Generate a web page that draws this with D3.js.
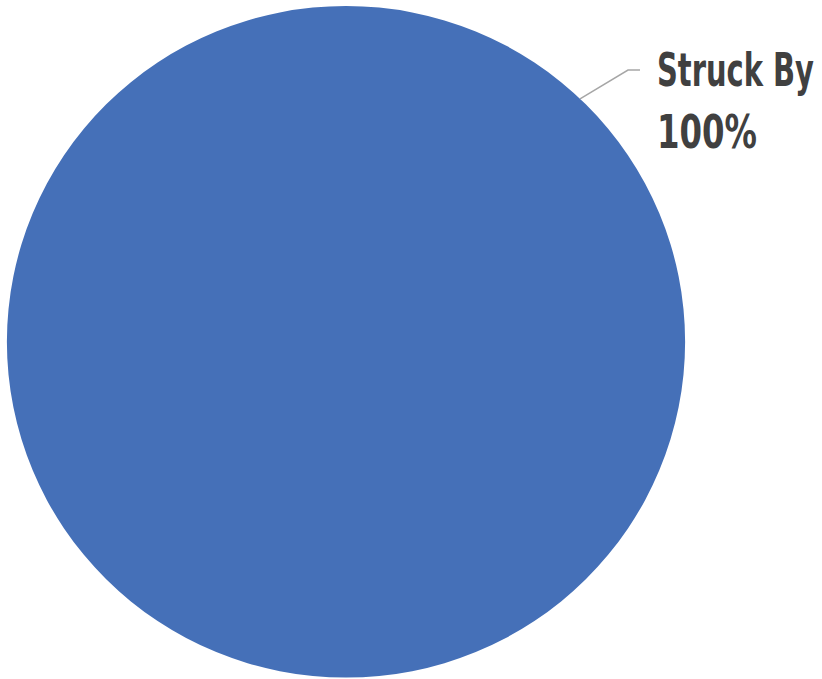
<!DOCTYPE html>
<html><head><meta charset="utf-8">
<script src="https://cdn.jsdelivr.net/npm/d3@7"></script>
<style>html,body{margin:0;padding:0;background:#fff;overflow:hidden}</style>
</head><body>
<svg id="chart" width="822" height="679"></svg>
<script>
const categories = ["Struck By"];
const values = [100];
const colors = ["#4570B8"];

const svg = d3.select("#chart");
const cx = 346, cy = 341.8, ry = 335.8, rx = 339;
const total = d3.sum(values);
const pie = d3.pie().sort(null).value(d => d.value);
const data = pie(categories.map((c, i) => ({ name: c, value: values[i] })));
const arc = d3.arc().innerRadius(0).outerRadius(ry);

const g = svg.append("g").attr("transform", `translate(${cx},${cy}) scale(${rx / ry},1)`);
g.selectAll("path").data(data).join("path")
  .attr("d", arc)
  .attr("fill", (d, i) => colors[i]);

// leader line and label
const lg = svg.append("g");
data.forEach((d, i) => {
  const ang = 0.762; // label anchored at upper right of the slice
  const p0 = [cx + rx * Math.sin(ang), cy - ry * Math.cos(ang)];
  lg.append("polyline")
    .attr("points", `${p0[0]},${p0[1]} 628,70 640,70`)
    .attr("fill", "none").attr("stroke", "#A6A6A6").attr("stroke-width", 1.5);
  const t = lg.append("text")
    .attr("x", 657).attr("fill", "#404040")
    .style("font-family", "'Liberation Sans Narrow','DejaVu Sans Condensed',sans-serif")
    .style("font-weight", "bold").style("font-size", "46px");
  t.append("tspan").attr("x", 657).attr("y", 86).text(d.data.name)
    .attr("textLength", 157).attr("lengthAdjust", "spacingAndGlyphs");
  t.append("tspan").attr("x", 657).attr("y", 148)
    .text(d3.format(".0%")(d.data.value / total))
    .attr("textLength", 100).attr("lengthAdjust", "spacingAndGlyphs");
});
</script>
</body></html>
